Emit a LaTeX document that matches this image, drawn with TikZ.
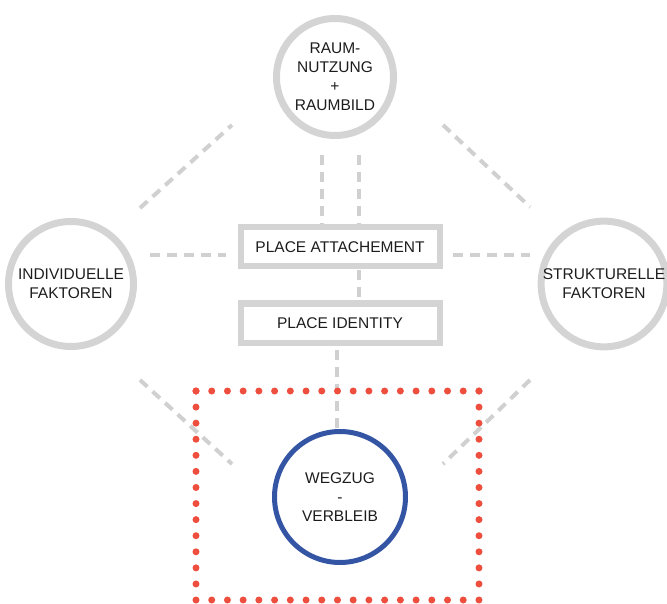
\documentclass[tikz,border=0pt]{standalone}
\usepackage{fontspec}
\setmainfont{Liberation Sans}
\definecolor{ringgray}{RGB}{212,212,212}
\definecolor{dashgray}{RGB}{208,208,208}
\definecolor{ringblue}{RGB}{52,84,164}
\definecolor{dotred}{RGB}{238,78,62}
\definecolor{txt}{RGB}{28,28,28}
\begin{document}
\begin{tikzpicture}[x=1pt,y=-1pt,
  label font/.style={font=\fontsize{15.5}{19}\selectfont, text=txt},
  ring/.style={circle, draw=ringgray, line width=7pt, inner sep=0pt,
    align=center, label font},
  bluering/.style={circle, draw=ringblue, line width=5pt, inner sep=0pt,
    align=center, label font},
  conceptbox/.style={rectangle, draw=ringgray, line width=6pt, inner sep=0pt,
    minimum width=199pt, minimum height=39pt, label font},
  link/.style={draw=dashgray, line width=4pt, dash pattern=on 10pt off 7pt},
  dotline/.style={draw=dotred, line width=7pt, line cap=round}
]
\useasboundingbox (0,0) rectangle (667,604);

% circles
\node[ring, minimum size=117pt] (raum) at (335,77)
  {RAUM-\\NUTZUNG\\+\\RAUMBILD};
\node[ring, minimum size=125pt] (indiv) at (71,284)
  {INDIVIDUELLE\\FAKTOREN};
\node[ring, minimum size=125pt] (struk) at (604,284)
  {STRUKTURELLE\\FAKTOREN};
\node[bluering, minimum size=131pt] (wegzug) at (340,497)
  {WEGZUG\\-\\VERBLEIB};

% boxes
\node[conceptbox] (attach) at (340,247) {PLACE ATTACHEMENT};
\node[conceptbox] (ident) at (340,323) {PLACE IDENTITY};

% free ends of the dashed links
\coordinate (ulA) at (140,208); \coordinate (ulB) at (232,125);
\coordinate (urA) at (443,125); \coordinate (urB) at (530,207);
\coordinate (llA) at (140,380); \coordinate (llB) at (232,464);
\coordinate (lrA) at (530,380); \coordinate (lrB) at (443,464);
\coordinate (hlA) at (150,255); \coordinate (hlB) at (226,255);
\coordinate (hrA) at (453,255); \coordinate (hrB) at (530,255);
\coordinate (v1A) at (322,155); \coordinate (v1B) at (322,224);
\coordinate (v2A) at (359,155); \coordinate (v2B) at (359,224);
\coordinate (v3A) at (359,270); \coordinate (v3B) at (359,297);
\coordinate (v4A) at (337,350); \coordinate (v4B) at (337,428);

% dashed links
\foreach \a/\b in {ulA/ulB, urA/urB, llA/llB, lrA/lrB, hlA/hlB, hrA/hrB,
                   v1A/v1B, v2A/v2B, v3A/v3B, v4A/v4B}
  \draw[link] (\a) -- (\b);

% dotted frame around the focus circle
\coordinate (fTL) at (196,391); \coordinate (fTR) at (479,391);
\coordinate (fBL) at (196,600); \coordinate (fBR) at (479,600);
\draw[dotline, dash pattern=on 0pt off 15.72pt] (fTL) -- (fTR);
\draw[dotline, dash pattern=on 0pt off 15.72pt] (fBL) -- (fBR);
\draw[dotline, dash pattern=on 0pt off 16.08pt] (fTL) -- (fBL);
\draw[dotline, dash pattern=on 0pt off 16.08pt] (fTR) -- (fBR);
\end{tikzpicture}
\end{document}
